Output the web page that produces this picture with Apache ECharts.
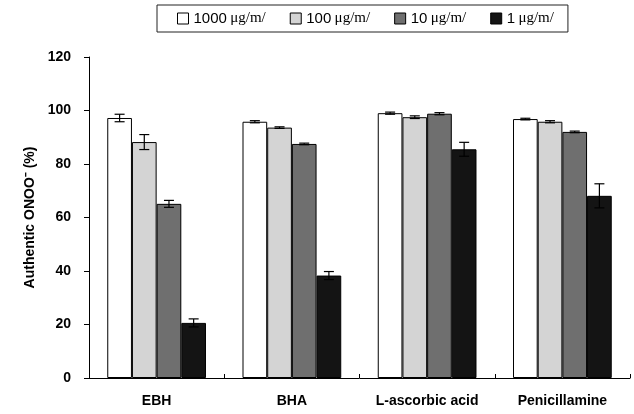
<!DOCTYPE html>
<html><head><meta charset="utf-8">
<script src="https://cdn.jsdelivr.net/npm/echarts@6/dist/echarts.min.js"></script>
<style>html,body{margin:0;padding:0;background:#fff}#c{width:634px;height:414px}</style>
</head><body><div id="c"></div>
<script>
var categories = ['EBH', 'BHA', 'L-ascorbic acid', 'Penicillamine'];
var seriesNames = ['1000', '100', '10', '1'];
var unitText = 'μg/m/';
var c1000 = [97.2, 95.8, 99.0, 96.8];
var c100 = [88.2, 93.6, 97.5, 95.8];
var c10 = [65.1, 87.5, 98.8, 92.0];
var c1 = [20.6, 38.3, 85.5, 68.1];
var e1000 = [1.4, 0.4, 0.4, 0.3];
var e100 = [2.8, 0.3, 0.5, 0.4];
var e10 = [1.3, 0.3, 0.4, 0.3];
var e1 = [1.5, 1.5, 2.6, 4.5];
var yTicks = [0, 20, 40, 60, 80, 100, 120];

var values = [c1000, c100, c10, c1];
var errs = [e1000, e100, e10, e1];
var colors = ['#ffffff', '#d4d4d4', '#6f6f6f', '#141414'];
var gapRatio = 0.27;

var chart = echarts.init(document.getElementById('c'), null, {renderer: 'canvas'});
var series = [];
values.forEach(function (vals, i) {
  series.push({
    name: seriesNames[i] + ' ' + unitText,
    type: 'bar',
    data: vals,
    barGap: '0%',
    barCategoryGap: (gapRatio * 100) + '%',
    itemStyle: {color: colors[i], borderColor: '#000', borderWidth: 1},
    silent: true
  });
});
values.forEach(function (vals, i) {
  series.push({
    type: 'custom',
    silent: true,
    z: 5,
    data: vals.map(function (v, k) { return [k, v, errs[i][k]]; }),
    renderItem: function (params, api) {
      var k = api.value(0), v = api.value(1), e = api.value(2);
      var band = api.size([1, 0])[0];
      var total = band * (1 - gapRatio);
      var bw = total / 4;
      var off = -total / 2 + bw * (i + 0.5);
      var top = api.coord([k, v + e]);
      var bot = api.coord([k, v - e]);
      var x = top[0] + off;
      var cap = 5;
      var st = {stroke: '#000', lineWidth: 1.2};
      return {type: 'group', children: [
        {type: 'line', shape: {x1: x, y1: top[1], x2: x, y2: bot[1]}, style: st},
        {type: 'line', shape: {x1: x - cap, y1: top[1], x2: x + cap, y2: top[1]}, style: st},
        {type: 'line', shape: {x1: x - cap, y1: bot[1], x2: x + cap, y2: bot[1]}, style: st}
      ]};
    }
  });
});

chart.setOption({
  animation: false,
  backgroundColor: '#fff',
  grid: {left: 89, right: 4, top: 57, bottom: 36},
  legend: {
    data: values.map(function (v, i) { return seriesNames[i] + ' ' + unitText; }),
    left: 157, top: 5,
    borderColor: '#222', borderWidth: 1,
    padding: [6, 14, 6, 20],
    itemWidth: 11, itemHeight: 11, itemGap: 24,
    icon: 'rect',
    formatter: function (n) {
      var p = n.split(' ');
      return '{a|' + p[0] + '} {b|' + p[1] + '}';
    },
    textStyle: {
      rich: {
        a: {fontFamily: 'Liberation Sans, Arial', fontSize: 15, color: '#000'},
        b: {fontFamily: 'Liberation Serif, Times New Roman', fontSize: 15, color: '#000'}
      }
    },
    itemStyle: {borderColor: '#000', borderWidth: 1}
  },
  xAxis: {
    type: 'category',
    data: categories,
    axisLine: {lineStyle: {color: '#000', width: 1}},
    axisTick: {show: true, inside: true, length: 4, lineStyle: {color: '#000'}},
    axisLabel: {color: '#000', fontWeight: 'bold', fontSize: 14, fontFamily: 'Liberation Sans, Arial', margin: 16}
  },
  yAxis: {
    type: 'value',
    min: yTicks[0], max: yTicks[yTicks.length - 1], interval: yTicks[1] - yTicks[0],
    name: 'Authentic ONOO⁻ (%)',
    nameLocation: 'middle',
    nameGap: 52,
    nameTextStyle: {color: '#000', fontWeight: 'bold', fontSize: 14, fontFamily: 'Liberation Sans, Arial'},
    axisLine: {show: true, lineStyle: {color: '#000', width: 1}},
    axisTick: {show: true, length: 5, lineStyle: {color: '#000'}},
    splitLine: {show: false},
    axisLabel: {color: '#000', fontWeight: 'bold', fontSize: 14, fontFamily: 'Liberation Sans, Arial', margin: 18}
  },
  series: series
});
</script></body></html>
